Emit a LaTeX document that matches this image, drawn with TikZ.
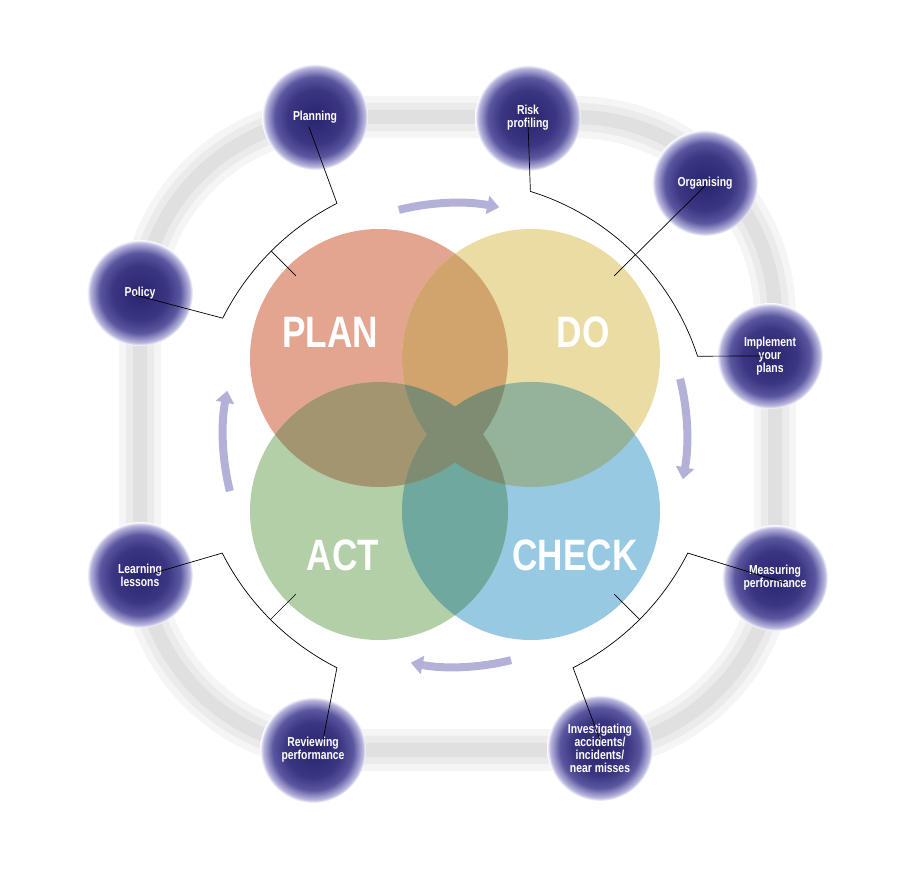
\documentclass[tikz,border=0pt]{standalone}
\usepackage{fontspec}
\setmainfont{Liberation Sans}
\newfontfamily\cond[FakeStretch=0.8]{Liberation Sans}
\usetikzlibrary{arrows.meta,calc}
\definecolor{planc}{HTML}{E3A590}
\definecolor{doc}{HTML}{EBDCA3}
\definecolor{actc}{HTML}{B2CFA8}
\definecolor{checkc}{HTML}{97C9E3}
\definecolor{pd}{HTML}{D2A46D}
\definecolor{pa}{HTML}{A39570}
\definecolor{dc}{HTML}{95B29A}
\definecolor{ac}{HTML}{6FA89D}
\definecolor{mid}{HTML}{7E8D72}
\definecolor{arrc}{HTML}{B4B1D8}
\pgfdeclareradialshading{ballsh}{\pgfpoint{0bp}{0bp}}{color(0bp)=(rgb,255:red,40;green,36;blue,110);color(13bp)=(rgb,255:red,58;green,54;blue,130);color(19bp)=(rgb,255:red,90;green,87;blue,160);color(23.5bp)=(rgb,255:red,185;green,183;blue,222);color(25bp)=(white);color(50bp)=(white)}
\tikzset{
 ball/.style={circle,minimum size=106pt,inner sep=0pt,shading=ballsh,text=white,align=center,font=\cond\bfseries\fontsize{13}{13}\selectfont},
 big/.style={circle,minimum size=258pt,inner sep=0pt},
 lbl/.style={text=white,font=\cond\bfseries\fontsize{44}{44}\selectfont},
 conn/.style={black,line width=0.7pt},
 cyc/.style={arrc,line width=8pt,-{Triangle[length=12pt,width=18pt]}},
}
\def\R{129}
\begin{document}
\begin{tikzpicture}[x=1pt,y=1pt]
\useasboundingbox (0,0) rectangle (905,884);
\coordinate (C) at (455,449);
% track
\draw[gray!8,line width=42pt,rounded corners=200pt] (140,134) rectangle (775,767);
\draw[gray!16,line width=28pt,rounded corners=200pt] (140,134) rectangle (775,767);
\draw[gray!24,line width=14pt,rounded corners=200pt] (140,134) rectangle (775,767);
% big circles
\node[big,fill=planc] (plan) at (379,526) {};
\node[big,fill=doc] (do) at (531,526) {};
\node[big,fill=actc] (act) at (379,373) {};
\node[big,fill=checkc] (check) at (531,373) {};
\begin{scope}\clip (plan.center) circle (\R); \fill[pd] (do.center) circle (\R);\end{scope}
\begin{scope}\clip (do.center) circle (\R); \fill[dc] (check.center) circle (\R);\end{scope}
\begin{scope}\clip (act.center) circle (\R); \fill[ac] (check.center) circle (\R);\end{scope}
\begin{scope}\clip (plan.center) circle (\R); \fill[pa] (act.center) circle (\R);\end{scope}
\begin{scope}\clip (plan.center) circle (\R); \fill[mid] (check.center) circle (\R);\end{scope}
\begin{scope}\clip (do.center) circle (\R); \fill[mid] (act.center) circle (\R);\end{scope}
\node[lbl] (tplan) at (330,552) {PLAN};
\node[lbl] (tdo) at (583,552) {DO};
\node[lbl] (tact) at (343,329) {ACT};
\node[lbl] (tcheck) at (575,329) {CHECK};
% cycle arrows
\draw[cyc] ($(C)+(104:232)$) arc[start angle=104,end angle=79,radius=232];
\draw[cyc] ($(C)+(14:232)$) arc[start angle=14,end angle=-11,radius=232];
\draw[cyc] ($(C)+(-76:232)$) arc[start angle=-76,end angle=-101,radius=232];
\draw[cyc] ($(C)+(194:232)$) arc[start angle=194,end angle=169,radius=232];
% balls
\node[ball] (b1) at (315,767) {Planning};
\node[ball] (b2) at (528,766) {Risk\\profiling};
\node[ball] (b3) at (705,701) {Organising};
\node[ball] (b4) at (140,591) {Policy};
\node[ball] (b5) at (770,528) {Implement\\your\\plans};
\node[ball] (b6) at (140,309) {Learning\\lessons};
\node[ball] (b7) at (775,306) {Measuring\\performance};
\node[ball] (b8) at (313,134) {Reviewing\\performance};
\node[ball] (b9) at (600,136) {Investigating\\accidents/\\incidents/\\near misses};
% connectors
\coordinate (a1) at ($(C)+(153.3:260)$);
\coordinate (t1) at ($(C)+(135:260)$);
\coordinate (u1) at ($(C)+(135:225)$);
\draw[conn] ([xshift=-5pt,yshift=-2pt]b4.center) -- (a1) arc[start angle=153.3,end angle=117,radius=260] -- ([xshift=-6pt,yshift=-10pt]b1.center);
\draw[conn] (t1) -- (u1);
\coordinate (a3) at ($(C)+(72.8:255)$);
\coordinate (u2) at ($(C)+(45:225)$);
\draw[conn] ([yshift=-5pt]b2.center) -- (a3) arc[start angle=72.8,end angle=18,radius=255] -- ([xshift=-5pt]b5.center);
\draw[conn] ([yshift=-3pt]b3.center) -- (u2);
\coordinate (a5) at ($(C)+(-26.9:261)$);
\coordinate (t3) at ($(C)+(-45:261)$);
\coordinate (u3) at ($(C)+(-45:225)$);
\draw[conn] ([xshift=10pt,yshift=-5pt]b7.center) -- (a5) arc[start angle=-26.9,end angle=-63.1,radius=261] -- ([yshift=8pt]b9.center);
\draw[conn] (t3) -- (u3);
\coordinate (a7) at ($(C)+(206.9:261)$);
\coordinate (t4) at ($(C)+(225:261)$);
\coordinate (u4) at ($(C)+(225:225)$);
\draw[conn] ([xshift=14pt,yshift=2pt]b6.center) -- (a7) arc[start angle=206.9,end angle=243.1,radius=261] -- ([xshift=10pt,yshift=10pt]b8.center);
\draw[conn] (t4) -- (u4);
\end{tikzpicture}
\end{document}
